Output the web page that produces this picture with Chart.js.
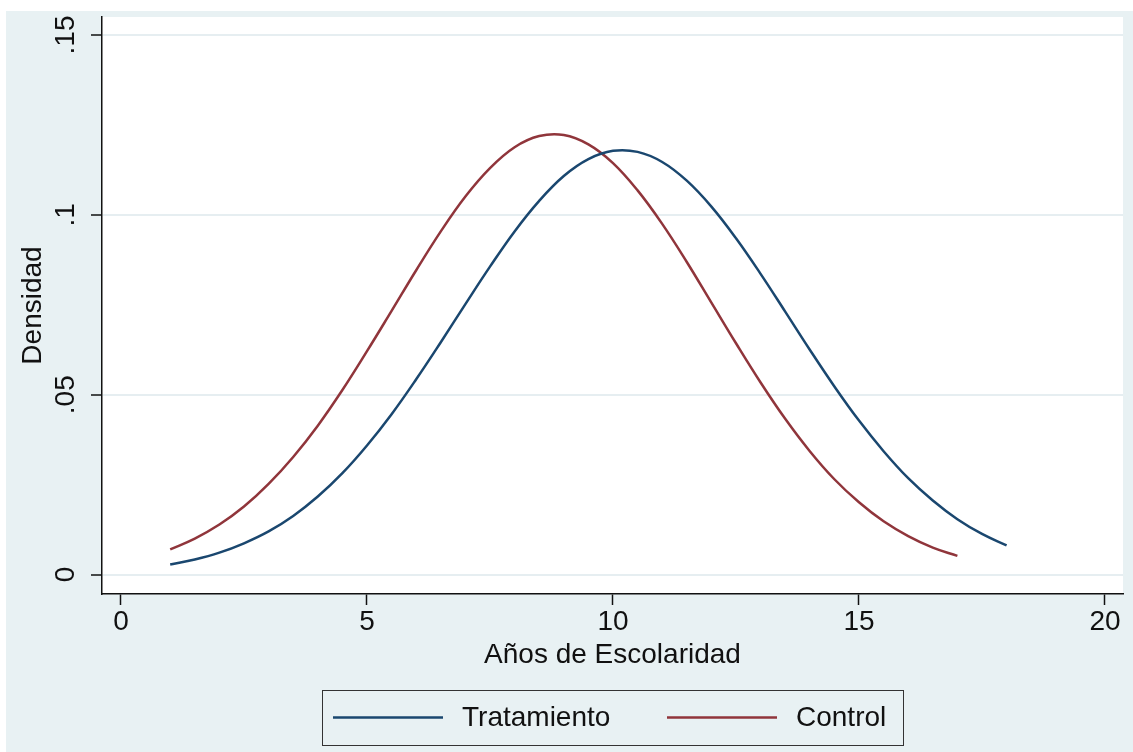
<!DOCTYPE html>
<html>
<head>
<meta charset="utf-8">
<script src="https://cdn.jsdelivr.net/npm/chart.js@4.4.0/dist/chart.umd.min.js"></script>
<style>
  html, body { margin: 0; padding: 0; background: #ffffff; }
</style>
</head>
<body>
<canvas id="chart" width="1133" height="752"></canvas>
<script>
// Years of schooling (x) and density (y)
const xTratamiento = [1, 1.5, 2, 2.5, 3, 3.5, 4, 4.5, 5, 5.5, 6, 6.5, 7, 7.5, 8, 8.5, 9, 9.5,
    10, 10.5, 11, 11.5, 12, 12.5, 13, 13.5, 14, 14.5, 15, 15.5, 16, 16.5, 17, 17.5, 18];
const yTratamiento = [0.0028, 0.0042, 0.0061, 0.0087, 0.0120, 0.0163, 0.0217, 0.0282, 0.0359,
    0.0446, 0.0543, 0.0646, 0.0752, 0.0856, 0.0954, 0.1039, 0.1108, 0.1155, 0.1178, 0.1175,
    0.1147, 0.1095, 0.1023, 0.0935, 0.0836, 0.0731, 0.0625, 0.0523, 0.0428, 0.0343, 0.0268,
    0.0206, 0.0154, 0.0113, 0.0081];

const xControl = [1, 1.5, 2, 2.5, 3, 3.5, 4, 4.5, 5, 5.5, 6, 6.5, 7, 7.5, 8, 8.5, 9, 9.5,
    10, 10.5, 11, 11.5, 12, 12.5, 13, 13.5, 14, 14.5, 15, 15.5, 16, 16.5, 17];
const yControl = [0.0070, 0.0100, 0.0139, 0.0189, 0.0252, 0.0327, 0.0414, 0.0513, 0.0621,
    0.0733, 0.0846, 0.0954, 0.1051, 0.1130, 0.1188, 0.1219, 0.1222, 0.1196, 0.1144, 0.1068,
    0.0975, 0.0869, 0.0756, 0.0643, 0.0534, 0.0433, 0.0343, 0.0265, 0.0201, 0.0148, 0.0107,
    0.0075, 0.0052];

const xTickValues = [0, 5, 10, 15, 20];
const yTickValues = [0, 0.05, 0.1, 0.15];
const yTickLabels = ['0', '.05', '.1', '.15'];

const FONT = '"Liberation Sans", Arial, sans-serif';
const BG = '#e8f1f3';
const GRID = '#e6eef1';
const INK = '#111111';

const toPoints = (xs, ys) => xs.map((x, i) => ({ x: x, y: ys[i] }));

// Stata-like frame: tinted page, white plot region, rotated y labels, boxed legend
const stataFrame = {
    id: 'stataFrame',
    beforeDraw(chart) {
        const { ctx, chartArea } = chart;
        ctx.save();
        ctx.fillStyle = '#ffffff';
        ctx.fillRect(0, 0, chart.width, chart.height);
        ctx.fillStyle = BG;
        ctx.fillRect(6, 11, chart.width - 6, chart.height - 11);
        ctx.fillStyle = '#ffffff';
        ctx.fillRect(chartArea.left, chartArea.top,
            chartArea.right - chartArea.left, chartArea.bottom - chartArea.top);
        ctx.restore();
    },
    afterDraw(chart) {
        const ctx = chart.ctx;
        const yScale = chart.scales.y;

        // y tick labels, turned like in Stata
        ctx.save();
        ctx.fillStyle = INK;
        ctx.font = '28px ' + FONT;
        ctx.textAlign = 'center';
        ctx.textBaseline = 'middle';
        yTickValues.forEach((v, i) => {
            ctx.save();
            ctx.translate(yScale.right - 36, yScale.getPixelForValue(v));
            ctx.rotate(-Math.PI / 2);
            ctx.fillText(yTickLabels[i], 0, 0);
            ctx.restore();
        });
        ctx.restore();

        // legend box at the bottom
        const box = { left: 322, top: 690, width: 581, height: 55 };
        const midY = box.top + box.height / 2;
        ctx.save();
        ctx.strokeStyle = '#333333';
        ctx.lineWidth = 1;
        ctx.strokeRect(box.left + 0.5, box.top + 0.5, box.width, box.height);
        ctx.font = '28px ' + FONT;
        ctx.textBaseline = 'middle';
        ctx.textAlign = 'left';
        const itemX = [333, 667];
        chart.data.datasets.forEach((ds, i) => {
            ctx.strokeStyle = ds.borderColor;
            ctx.lineWidth = 2.5;
            ctx.beginPath();
            ctx.moveTo(itemX[i], midY);
            ctx.lineTo(itemX[i] + 110, midY);
            ctx.stroke();
            ctx.fillStyle = INK;
            ctx.fillText(ds.label, itemX[i] + 129, midY + 1);
        });
        ctx.restore();
    }
};

new Chart(document.getElementById('chart'), {
    type: 'line',
    data: {
        datasets: [{
            label: 'Tratamiento',
            data: toPoints(xTratamiento, yTratamiento),
            borderColor: '#1a476f',
            borderWidth: 2.5,
            pointRadius: 0,
            tension: 0.4,
            fill: false
        }, {
            label: 'Control',
            data: toPoints(xControl, yControl),
            borderColor: '#90353b',
            borderWidth: 2.5,
            pointRadius: 0,
            tension: 0.4,
            fill: false
        }]
    },
    options: {
        responsive: false,
        animation: false,
        layout: { padding: { left: 6, top: 17, right: 10, bottom: 0 } },
        plugins: {
            legend: { display: false },
            tooltip: { enabled: false }
        },
        scales: {
            x: {
                type: 'linear',
                min: -0.386,
                max: 20.366,
                afterBuildTicks: (scale) => { scale.ticks = xTickValues.map(v => ({ value: v })); },
                afterFit: (scale) => { scale.height = 158; },
                ticks: {
                    color: INK,
                    padding: 0,
                    font: { family: FONT, size: 28 },
                    callback: (v) => String(v)
                },
                grid: {
                    drawOnChartArea: false,
                    color: 'transparent',
                    tickColor: INK,
                    tickLength: 11,
                    tickWidth: 1.5
                },
                border: { display: true, color: INK, width: 1.5 },
                title: {
                    display: true,
                    text: 'Años de Escolaridad',
                    color: INK,
                    font: { family: FONT, size: 28 },
                    padding: { top: 0, bottom: 80 }
                }
            },
            y: {
                type: 'linear',
                min: -0.0054,
                max: 0.155,
                afterBuildTicks: (scale) => { scale.ticks = yTickValues.map(v => ({ value: v })); },
                afterFit: (scale) => { scale.width = 96; },
                ticks: { display: false },
                grid: {
                    color: GRID,
                    lineWidth: 2,
                    tickColor: INK,
                    tickLength: 11,
                    tickWidth: 1.5
                },
                border: { display: true, color: INK, width: 1.5 },
                title: {
                    display: true,
                    text: 'Densidad',
                    color: INK,
                    font: { family: FONT, size: 28 },
                    padding: { top: 10, bottom: 0 }
                }
            }
        }
    },
    plugins: [stataFrame]
});
</script>
</body>
</html>
